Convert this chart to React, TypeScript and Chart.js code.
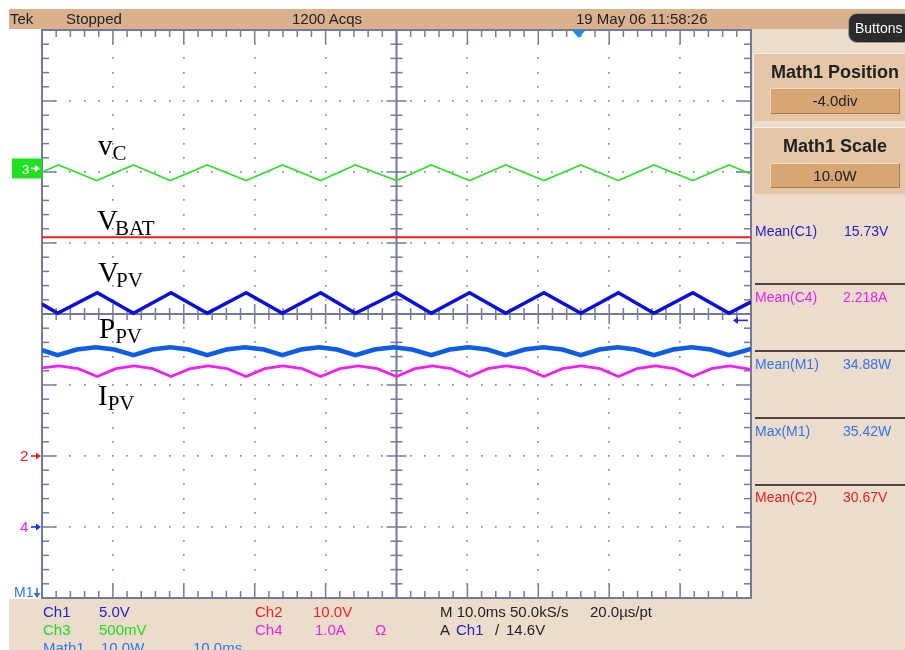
import React, { useEffect, useRef } from 'react';
import { Chart, registerables } from 'chart.js';
Chart.register(...registerables);

const SANS = '"Liberation Sans", Arial, sans-serif';
const SERIF = '"Liberation Serif", "Times New Roman", serif';

// Horizontal axis: time in ms (10 divisions of 10 ms). Vertical axis: screen divisions.
const X_MIN = 0, X_MAX = 100, X_DIV = 10, X_SUB = 2;
const Y_MIN = -4, Y_MAX = 4, Y_DIV = 1, Y_SUB = 0.2;

// v_C (Ch3, green)
const vcTimes = [0, 2.3, 7.7, 12.9, 18.1, 23.3, 28.8, 33.9, 39.3, 44.2, 50.0, 54.9, 60.3, 65.4, 70.8, 76.0, 81.3, 86.3, 91.8, 96.9, 100];
const vcValues = [2.0, 2.1, 1.88, 2.1, 1.88, 2.1, 1.88, 2.1, 1.88, 2.1, 1.88, 2.1, 1.88, 2.1, 1.88, 2.1, 1.88, 2.1, 1.88, 2.1, 1.97];

// V_BAT (Ch2, red)
const vbatTimes = [0, 100];
const vbatValues = [1.08, 1.08];

// V_PV (Ch1, dark blue)
const vpvTimes = [0, 2.2, 7.8, 12.9, 18.2, 23.3, 28.8, 33.9, 39.3, 44.2, 50.0, 54.9, 60.3, 65.4, 70.8, 76.0, 81.3, 86.3, 91.8, 96.9, 100];
const vpvValues = [0.14, 0.01, 0.3, 0.01, 0.3, 0.01, 0.3, 0.01, 0.3, 0.01, 0.3, 0.01, 0.3, 0.01, 0.3, 0.01, 0.3, 0.01, 0.3, 0.01, 0.17];

// P_PV (Math1, blue)
const ppvTimes = [0, 2.2, 4.9, 7.6, 10.2, 12.9, 15.5, 18.1, 20.7, 23.3, 26.0, 28.6, 31.3, 33.9, 36.5, 39.1, 41.6, 44.2, 46.9, 49.6, 52.2, 54.9, 57.5, 60.2, 62.8, 65.4, 68.1, 70.7, 73.4, 76.0, 78.6, 81.2, 83.7, 86.3, 89.0, 91.6, 94.3, 96.9, 100];
const ppvValues = [-0.51, -0.58, -0.5, -0.47, -0.5, -0.58, -0.5, -0.47, -0.5, -0.58, -0.5, -0.47, -0.5, -0.58, -0.5, -0.47, -0.5, -0.58, -0.5, -0.47, -0.5, -0.58, -0.5, -0.47, -0.5, -0.58, -0.5, -0.47, -0.5, -0.58, -0.5, -0.47, -0.5, -0.58, -0.5, -0.47, -0.5, -0.58, -0.49];

// I_PV (Ch4, magenta)
const ipvTimes = [0, 2.4, 5.1, 7.8, 10.4, 13.0, 15.6, 18.2, 20.9, 23.5, 26.1, 28.8, 31.4, 34.0, 36.7, 39.3, 42.0, 44.6, 47.3, 50.0, 52.6, 55.1, 57.7, 60.3, 62.9, 65.5, 68.2, 70.8, 73.4, 76.0, 78.7, 81.3, 83.9, 86.5, 89.2, 91.8, 94.4, 97.0, 100];
const ipvValues = [-0.76, -0.73, -0.77, -0.88, -0.77, -0.73, -0.77, -0.88, -0.77, -0.73, -0.77, -0.88, -0.77, -0.73, -0.77, -0.88, -0.77, -0.73, -0.77, -0.88, -0.77, -0.73, -0.77, -0.88, -0.77, -0.73, -0.77, -0.88, -0.77, -0.73, -0.77, -0.88, -0.77, -0.73, -0.77, -0.88, -0.77, -0.73, -0.78];

// Channel reference markers (divisions) and trigger
const ch3Marker = 2.05;
const ch2Marker = -2.0;
const ch4Marker = -3.0;
const math1Marker = -4.0;
const triggerTime = 75.7;
const triggerLevel = -0.09;

const GRID = '#737b98';

const pts = (t: number[], v: number[]) => t.map((x, i) => ({ x, y: v[i] }));

function arrow(ctx: any, x1: number, x2: number, y: number, color: string) {
  const dir = x2 > x1 ? 1 : -1;
  ctx.strokeStyle = color;
  ctx.fillStyle = color;
  ctx.lineWidth = 1.6;
  ctx.beginPath();
  ctx.moveTo(x1, y);
  ctx.lineTo(x2 - dir * 3, y);
  ctx.stroke();
  ctx.beginPath();
  ctx.moveTo(x2, y);
  ctx.lineTo(x2 - dir * 5, y - 3.5);
  ctx.lineTo(x2 - dir * 5, y + 3.5);
  ctx.closePath();
  ctx.fill();
}

const scopeGrid = {
  id: 'scopeGrid',
  beforeDatasetsDraw(chart: any) {
    const { ctx, chartArea: a, scales } = chart;
    const px = (v: number) => scales.x.getPixelForValue(v);
    const py = (v: number) => scales.y.getPixelForValue(v);
    const xMid = (X_MIN + X_MAX) / 2;
    const yMid = (Y_MIN + Y_MAX) / 2;
    const nx = Math.round((X_MAX - X_MIN) / X_SUB);
    const ny = Math.round((Y_MAX - Y_MIN) / Y_SUB);
    const perX = Math.round(X_DIV / X_SUB);
    const perY = Math.round(Y_DIV / Y_SUB);
    ctx.save();
    // dotted grid
    ctx.fillStyle = '#858ca6';
    for (let i = perX; i < nx; i += perX) {
      const gx = X_MIN + i * X_SUB;
      if (Math.abs(gx - xMid) < 1e-6) continue;
      for (let j = 1; j < ny; j++) {
        if (j % perY === 0) continue;
        ctx.fillRect(Math.round(px(gx)) - 1, Math.round(py(Y_MIN + j * Y_SUB)) - 1, 1.7, 1.7);
      }
    }
    for (let j = perY; j < ny; j += perY) {
      const gy = Y_MIN + j * Y_SUB;
      if (Math.abs(gy - yMid) < 1e-6) continue;
      for (let i = 1; i < nx; i++) {
        ctx.fillRect(Math.round(px(X_MIN + i * X_SUB)) - 1, Math.round(py(gy)) - 1, 1.7, 1.7);
      }
    }
    const line = (x1: number, y1: number, x2: number, y2: number) => {
      ctx.beginPath();
      ctx.moveTo(x1, y1);
      ctx.lineTo(x2, y2);
      ctx.stroke();
    };
    ctx.strokeStyle = GRID;
    // center cross
    ctx.lineWidth = 2;
    line(px(xMid), a.top, px(xMid), a.bottom);
    line(a.left, py(yMid), a.right, py(yMid));
    ctx.lineWidth = 1.5;
    for (let j = 1; j < ny; j++) {
      const l = j % perY === 0 ? 10 : 6;
      const y = py(Y_MIN + j * Y_SUB);
      line(px(xMid) - l, y, px(xMid) + l, y);
    }
    for (let i = 1; i < nx; i++) {
      const l = i % perX === 0 ? 10 : 6;
      const x = px(X_MIN + i * X_SUB);
      line(x, py(yMid) - l, x, py(yMid) + l);
    }
    // border ticks
    for (let i = 1; i < nx; i++) {
      const l = i % perX === 0 ? 14 : 7;
      const x = px(X_MIN + i * X_SUB);
      line(x, a.top, x, a.top + l);
      line(x, a.bottom, x, a.bottom - l);
    }
    for (let j = 1; j < ny; j++) {
      const l = j % perY === 0 ? 14 : 7;
      const y = py(Y_MIN + j * Y_SUB);
      line(a.left, y, a.left + l, y);
      line(a.right, y, a.right - l, y);
    }
    ctx.lineWidth = 2;
    ctx.strokeRect(a.left, a.top, a.right - a.left, a.bottom - a.top);
    ctx.restore();
  },
  afterDatasetsDraw(chart: any) {
    const { ctx, chartArea: a, scales } = chart;
    const px = (v: number) => scales.x.getPixelForValue(v);
    const py = (v: number) => scales.y.getPixelForValue(v);
    ctx.save();
    // Ch3 marker box
    const y3 = py(ch3Marker);
    ctx.fillStyle = '#22e022';
    ctx.fillRect(12, y3 - 10, 30, 20);
    arrow(ctx, 31, 40, y3, '#ffffff');
    arrow(ctx, 31, a.left - 1, py(ch2Marker), '#ee1c1c');
    arrow(ctx, 31, a.left - 1, py(ch4Marker), '#1c2ee0');
    // Math1 marker arrow (down)
    const yM = py(math1Marker);
    ctx.strokeStyle = '#2f6fe6';
    ctx.fillStyle = '#2f6fe6';
    ctx.lineWidth = 1.6;
    ctx.beginPath();
    ctx.moveTo(37, yM - 10);
    ctx.lineTo(37, yM - 3);
    ctx.stroke();
    ctx.beginPath();
    ctx.moveTo(37, yM);
    ctx.lineTo(33.5, yM - 5);
    ctx.lineTo(40.5, yM - 5);
    ctx.closePath();
    ctx.fill();
    // trigger position
    const xt = px(triggerTime);
    ctx.fillStyle = '#1b8fe4';
    ctx.beginPath();
    ctx.moveTo(xt - 7, a.top);
    ctx.lineTo(xt + 7, a.top);
    ctx.lineTo(xt, a.top + 8);
    ctx.closePath();
    ctx.fill();
    // trigger level
    arrow(ctx, a.right - 3, a.right - 18, py(triggerLevel), '#1c2ee0');
    ctx.restore();
  },
};

function ScopeChart() {
  const ref = useRef<HTMLCanvasElement>(null);
  useEffect(() => {
    if (!ref.current) return;
    const chart = new Chart(ref.current, {
      type: 'line',
      data: {
        datasets: [
          { data: pts(vcTimes, vcValues), borderColor: '#33dd33', borderWidth: 1.6 },
          { data: pts(vbatTimes, vbatValues), borderColor: '#ee1c1c', borderWidth: 2 },
          { data: pts(vpvTimes, vpvValues), borderColor: '#0a10d8', borderWidth: 3.6 },
          { data: pts(ppvTimes, ppvValues), borderColor: '#0c5ce6', borderWidth: 4.5 },
          { data: pts(ipvTimes, ipvValues), borderColor: '#f020ee', borderWidth: 2.8 },
        ],
      },
      options: {
        animation: false,
        responsive: false,
        maintainAspectRatio: false,
        devicePixelRatio: 1,
        layout: { padding: { left: 42, top: 30, right: 154, bottom: 52 } },
        scales: {
          x: { type: 'linear', min: X_MIN, max: X_MAX, display: false },
          y: { type: 'linear', min: Y_MIN, max: Y_MAX, display: false },
        },
        elements: { point: { radius: 0 }, line: { tension: 0, borderJoinStyle: 'miter' } },
        plugins: { legend: { display: false }, tooltip: { enabled: false } },
      },
      plugins: [scopeGrid],
    } as any);
    return () => chart.destroy();
  }, []);
  return (
    <canvas
      ref={ref}
      width={905}
      height={650}
      style={{ position: 'absolute', left: 0, top: 0, width: 905, height: 650, zIndex: 1 }}
    />
  );
}

function Txt(props: { x: number; b: number; s: number; c?: string; w?: number; f?: string; center?: boolean; children: React.ReactNode }) {
  const { x, b, s, c = '#222', w = 400, f = SANS, center, children } = props;
  const base: React.CSSProperties = {
    position: 'absolute',
    top: b - s * 0.845,
    fontSize: s,
    lineHeight: `${s}px`,
    color: c,
    fontWeight: w,
    fontFamily: f,
    whiteSpace: 'nowrap',
    zIndex: 2,
  };
  if (center) return <div style={{ ...base, left: x - 100, width: 200, textAlign: 'center' }}>{children}</div>;
  return <div style={{ ...base, left: x }}>{children}</div>;
}

function Label(props: { x: number; b: number; main: string; sub: string; subShift?: number }) {
  return (
    <div
      style={{
        position: 'absolute',
        left: props.x,
        top: props.b - 29 * 0.84,
        fontFamily: SERIF,
        fontSize: 29,
        lineHeight: '29px',
        color: '#000',
        whiteSpace: 'nowrap',
        zIndex: 2,
      }}
    >
      {props.main}
      <span style={{ fontSize: 21, lineHeight: '21px', verticalAlign: -5, marginLeft: props.subShift ?? 0 }}>{props.sub}</span>
    </div>
  );
}

const box = (l: number, t: number, w: number, h: number, extra: React.CSSProperties = {}) => (
  <div style={{ position: 'absolute', left: l, top: t, width: w, height: h, boxSizing: 'border-box', ...extra }} />
);

export default function App() {
  const BLUE = '#2222cc';
  const MATH = '#3374ea';
  const RED = '#ee2020';
  const GREEN = '#22d822';
  const MAG = '#ee22ee';
  return (
    <div style={{ position: 'fixed', left: 0, top: 0, width: 905, height: 650, overflow: 'hidden', background: '#ffffff' }}>
      {box(9, 9, 896, 20, { background: '#d9b18d' })}
      {box(752, 29, 153, 570, { background: '#ecdccb' })}
      {box(9, 599, 896, 51, { background: '#ecdccb' })}
      {box(753, 53, 152, 68, { background: '#e4c7a7', borderTop: '1px solid #f7ede2', borderLeft: '1px solid #f7ede2' })}
      {box(770, 88, 130, 26, { background: '#d8a674', border: '1px solid', borderColor: '#f3dcc4 #a57a52 #a57a52 #f3dcc4' })}
      {box(753, 127, 152, 67, { background: '#e4c7a7', borderTop: '1px solid #f7ede2', borderLeft: '1px solid #f7ede2' })}
      {box(770, 163, 130, 25, { background: '#d8a674', border: '1px solid', borderColor: '#f3dcc4 #a57a52 #a57a52 #f3dcc4' })}
      {[283, 350, 417, 484].map((t) => (
        <React.Fragment key={t}>{box(755, t, 150, 2, { background: '#4e4444' })}</React.Fragment>
      ))}
      {box(848, 13, 64, 30, { background: '#2b2b2b', border: '1px solid #9a9a9a', borderRadius: 9, zIndex: 2 })}

      <ScopeChart />

      {/* top status bar */}
      <Txt x={10} b={24} s={15}>Tek</Txt>
      <Txt x={66} b={24} s={15}>Stopped</Txt>
      <Txt x={292} b={24} s={15}>1200 Acqs</Txt>
      <Txt x={576} b={24} s={15}>19 May 06 11:58:26</Txt>
      <div style={{ position: 'absolute', left: 855, top: 33 - 14 * 0.845, fontFamily: SANS, fontSize: 14, lineHeight: '14px', color: '#fff', zIndex: 3 }}>Buttons</div>

      {/* right panel */}
      <Txt x={835} b={78} s={18} w={700} center>Math1 Position</Txt>
      <Txt x={835} b={106} s={15} center>-4.0div</Txt>
      <Txt x={835} b={152} s={18} w={700} center>Math1 Scale</Txt>
      <Txt x={835} b={181} s={15} center>10.0W</Txt>
      <Txt x={755} b={236} s={14} c={BLUE}>Mean(C1)</Txt>
      <Txt x={844} b={236} s={14} c={BLUE}>15.73V</Txt>
      <Txt x={755} b={302} s={14} c={MAG}>Mean(C4)</Txt>
      <Txt x={843} b={302} s={14} c={MAG}>2.218A</Txt>
      <Txt x={755} b={369} s={14} c={MATH}>Mean(M1)</Txt>
      <Txt x={843} b={369} s={14} c={MATH}>34.88W</Txt>
      <Txt x={755} b={436} s={14} c={MATH}>Max(M1)</Txt>
      <Txt x={843} b={436} s={14} c={MATH}>35.42W</Txt>
      <Txt x={755} b={502} s={14} c={RED}>Mean(C2)</Txt>
      <Txt x={843} b={502} s={14} c={RED}>30.67V</Txt>

      {/* bottom readouts */}
      <Txt x={43} b={617} s={15} c={BLUE}>Ch1</Txt>
      <Txt x={99} b={617} s={15} c={BLUE}>5.0V</Txt>
      <Txt x={255} b={617} s={15} c={RED}>Ch2</Txt>
      <Txt x={313} b={617} s={15} c={RED}>10.0V</Txt>
      <Txt x={440} b={617} s={15}>M 10.0ms 50.0kS/s</Txt>
      <Txt x={590} b={617} s={15}>20.0µs/pt</Txt>
      <Txt x={43} b={635} s={15} c={GREEN}>Ch3</Txt>
      <Txt x={99} b={635} s={15} c={GREEN}>500mV</Txt>
      <Txt x={255} b={635} s={15} c={MAG}>Ch4</Txt>
      <Txt x={315} b={635} s={15} c={MAG}>1.0A</Txt>
      <Txt x={375} b={635} s={15} c={MAG}>Ω</Txt>
      <Txt x={440} b={635} s={15}>A</Txt>
      <Txt x={456} b={635} s={15} c={BLUE}>Ch1</Txt>
      <Txt x={495} b={635} s={15}>/</Txt>
      <Txt x={506} b={635} s={15}>14.6V</Txt>
      <Txt x={43} b={653} s={15} c={MATH}>Math1</Txt>
      <Txt x={101} b={653} s={15} c={MATH}>10.0W</Txt>
      <Txt x={193} b={653} s={15} c={MATH}>10.0ms</Txt>

      {/* channel markers */}
      <Txt x={22} b={174} s={13} c="#ffffff">3</Txt>
      <Txt x={20} b={461} s={15} c={RED}>2</Txt>
      <Txt x={20} b={532} s={15} c={MAG}>4</Txt>
      <Txt x={14} b={597} s={14} c={MATH}>M1</Txt>

      {/* trace labels */}
      <Label x={98} b={155} main="v" sub="C" />
      <Label x={97} b={230} main="V" sub="BAT" subShift={-3} />
      <Label x={98} b={282} main="V" sub="PV" subShift={-3} />
      <Label x={99} b={338} main="P" sub="PV" />
      <Label x={98} b={405} main="I" sub="PV" />
    </div>
  );
}
